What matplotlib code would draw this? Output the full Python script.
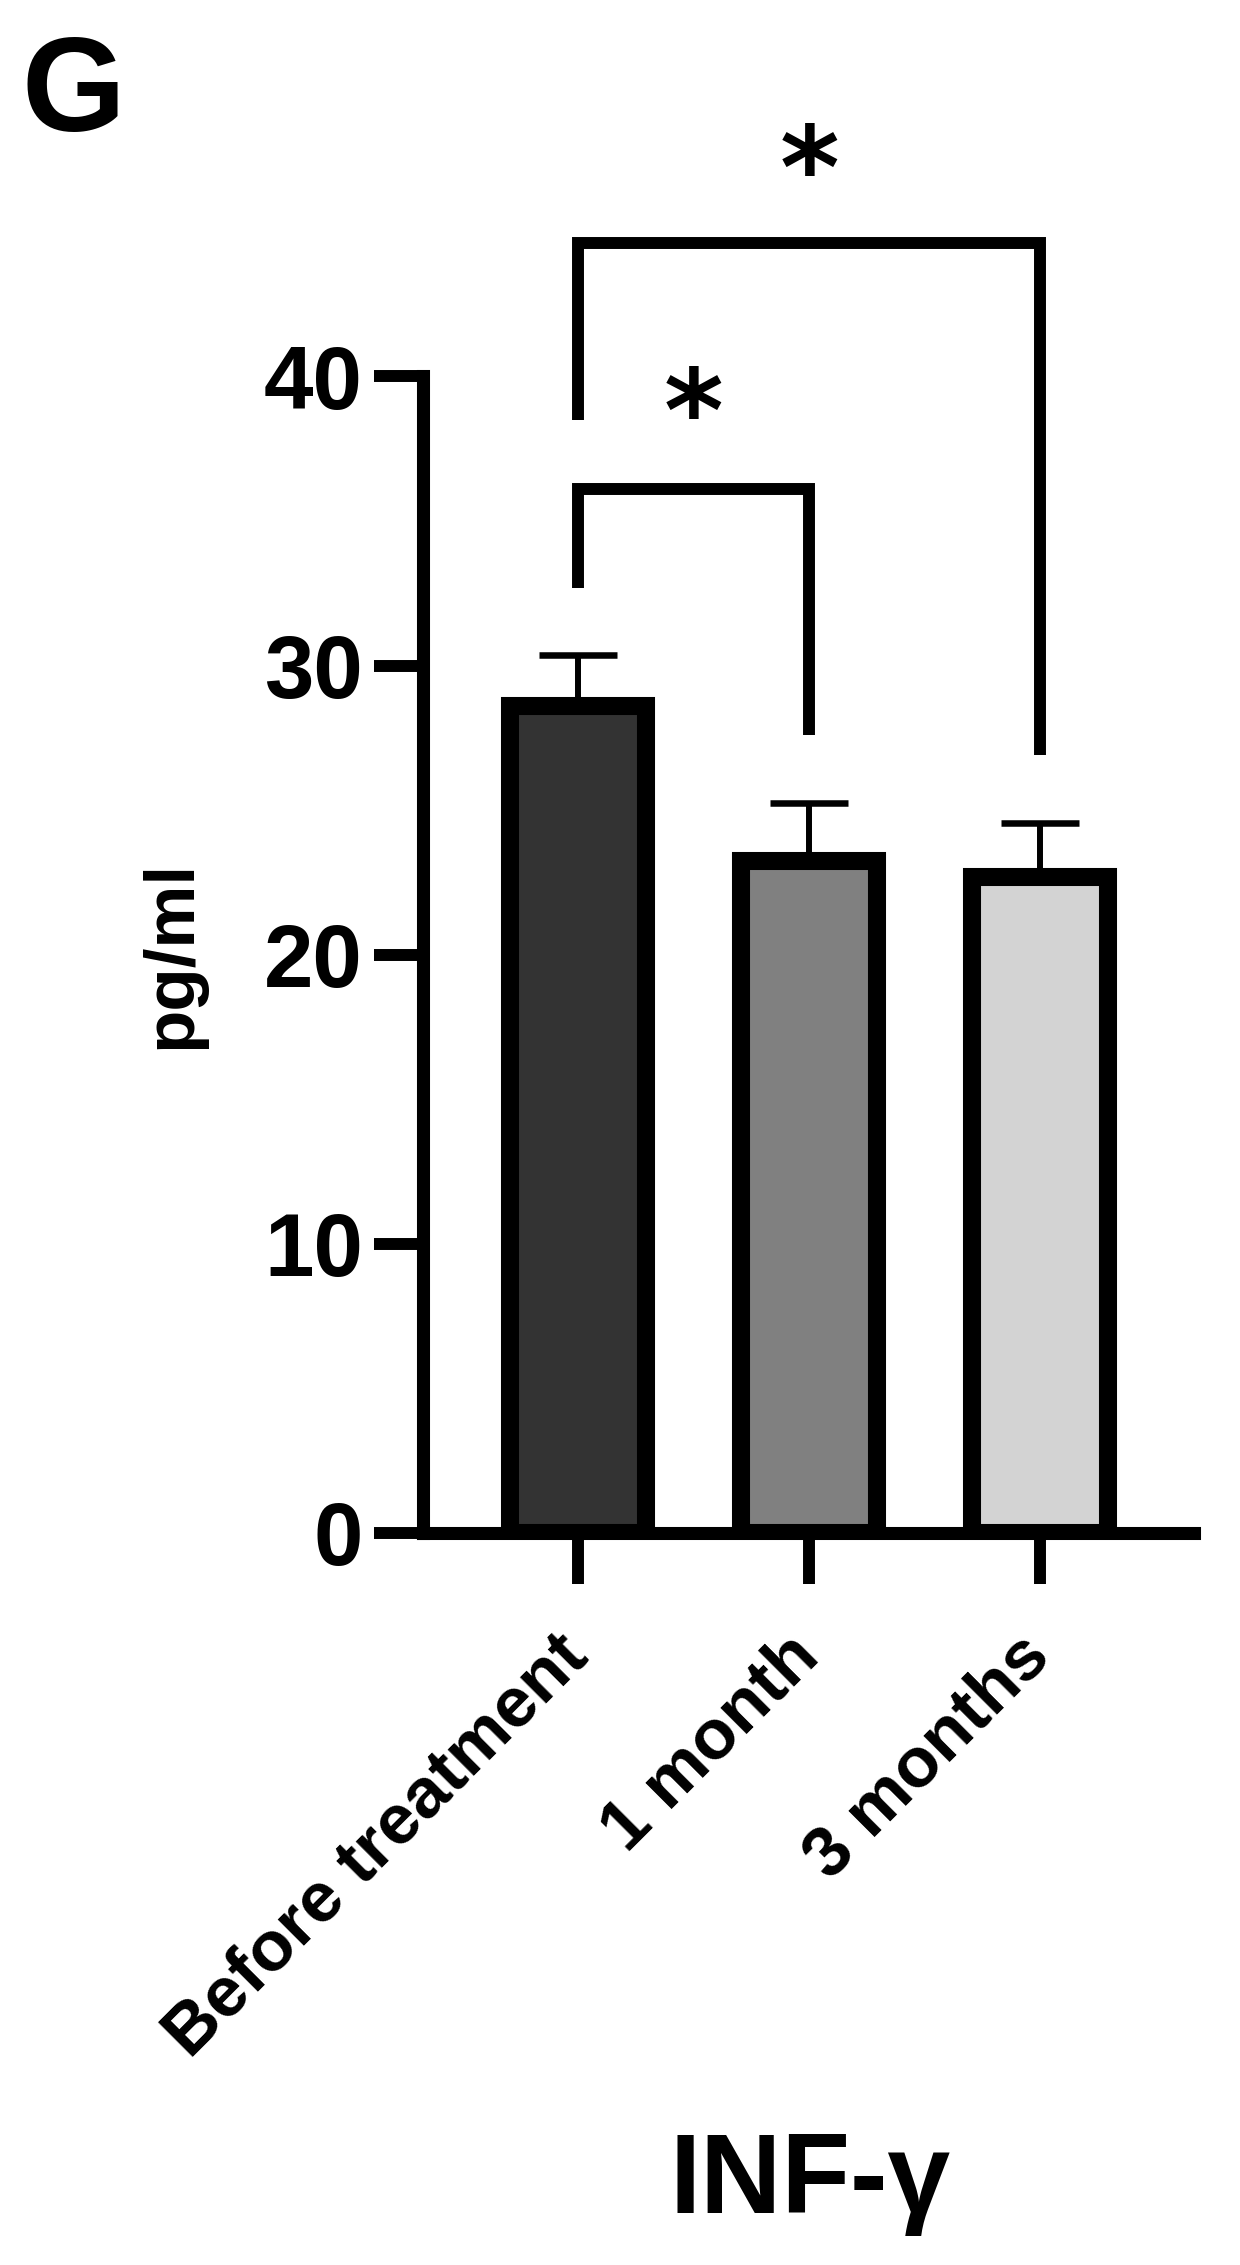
import numpy as np
import matplotlib
matplotlib.use('Agg')
import matplotlib.pyplot as plt

plt.rcParams['font.family'] = ['Liberation Sans', 'DejaVu Sans']
plt.rcParams['font.weight'] = 'bold'

# values
groups = ['Before treatment', '1 month', '3 months']
means = [28.6, 23.25, 22.7]
sem = [1.75, 2.0, 1.85]
colors = ['#333333', '#808080', '#d3d3d3']

# significance brackets: (left group, right group, left leg end, top, right leg end)
brackets = [(0, 1, 32.7, 36.1, 27.6), (0, 2, 38.5, 44.6, 26.9)]
star_y = [39.4, 47.8]

fig = plt.figure(figsize=(12.4, 22.65), dpi=100)
ax = fig.add_axes([0.3415, 0.3232, 0.621, 0.5106])

x = np.arange(len(groups))
ax.errorbar(x, means, yerr=sem, fmt='none', ecolor='black', elinewidth=4.3,
            capsize=28, capthick=4.7, zorder=1)
ax.bar(x, means, width=0.59, color=colors, edgecolor='black', linewidth=13, zorder=2)

for (i, j, yl, top, yr), sy in zip(brackets, star_y):
    ax.plot([x[i], x[i], x[j], x[j]], [yl, top, top, yr], color='black', lw=8.6,
            solid_joinstyle='miter', solid_capstyle='butt', clip_on=False)
    # the asterisk glyph sits high in its box, so anchor it a bit lower
    ax.text((x[i] + x[j]) / 2, sy - 0.9, '*', ha='center', va='center', fontsize=82,
            fontweight='bold', family=['DejaVu Sans'], clip_on=False)

ax.set_xlim(-0.669, 2.664)
ax.set_ylim(0, 40)
ax.set_yticks([0, 10, 20, 30, 40])
ax.set_xticks(x)
ax.set_xticklabels(groups, rotation=45, ha='right', va='center', rotation_mode='anchor')
ax.spines['top'].set_visible(False)
ax.spines['right'].set_visible(False)
for s in ['left', 'bottom']:
    ax.spines[s].set_linewidth(9.4)
    ax.spines[s].set_capstyle('projecting')
ax.tick_params(axis='y', length=35.6, width=8.6, labelsize=64, pad=8)
ax.tick_params(axis='x', length=36.5, width=8.6, labelsize=51, pad=45)

fig.text(172 / 1240, 1 - 954.5 / 2265, 'pg/ml', rotation=90, ha='center', va='center',
         fontsize=51, fontweight='bold')
fig.text(810 / 1240, 1 - 2213 / 2265, 'INF-γ', ha='center', va='baseline',
         fontsize=81, fontweight='bold')
fig.text(21 / 1240, 1 - 131 / 2265, 'G', ha='left', va='baseline',
         fontsize=96, fontweight='bold')

fig.savefig('out.png', dpi=100)
